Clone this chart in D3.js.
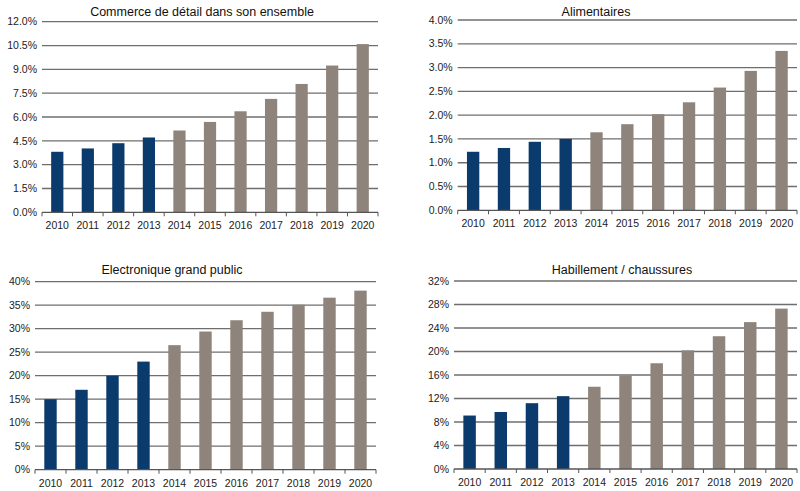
<!DOCTYPE html>
<html><head><meta charset="utf-8">
<script src="https://cdn.jsdelivr.net/npm/d3@7"></script>
<style>
body{margin:0;background:#fff;}
svg{display:block;font-family:"Liberation Sans",Arial,sans-serif;}
</style></head>
<body><svg id="c" width="800" height="491"></svg>
<script>
const years = ["2010","2011","2012","2013","2014","2015","2016","2017","2018","2019","2020"];
const actualCount = 4;
const titles = ["Commerce de détail dans son ensemble","Alimentaires","Electronique grand public","Habillement / chaussures"];
const commerce = [3.81,4.02,4.35,4.71,5.15,5.69,6.36,7.14,8.08,9.24,10.59];
const alimentaires = [1.23,1.31,1.44,1.50,1.64,1.81,2.02,2.27,2.58,2.93,3.35];
const electronique = [15.0,17.0,20.0,23.0,26.5,29.4,31.8,33.6,35.1,36.6,38.1];
const habillement = [9.1,9.7,11.2,12.4,14.0,15.9,18.0,20.2,22.6,25.0,27.3];
const yMax = [12,4,40,32];
const yStep = [1.5,0.5,5,4];
const yDecimals = [1,1,0,0];

const series = [commerce, alimentaires, electronique, habillement];
const layout = [
  {x0:42, x1:378, top:21.7, bottom:212.3, tx:202, ty:16},
  {x0:457.7, x1:797, top:20, bottom:210.3, tx:596, ty:16},
  {x0:35, x1:376, top:281.7, bottom:469.7, tx:172, ty:274},
  {x0:454, x1:797, top:281, bottom:469, tx:622, ty:274}
];
const navy = "#0b3a6c", grey = "#8e847b";
const svg = d3.select("#c");

series.forEach((vals, i) => {
  const L = layout[i];
  const g = svg.append("g");
  const x = d3.scaleBand().domain(years).range([L.x0, L.x1]).paddingInner(0.6).paddingOuter(0.3);
  const y = d3.scaleLinear().domain([0, yMax[i]]).range([L.bottom, L.top]);
  const ticks = d3.range(0, yMax[i] + yStep[i]/2, yStep[i]);
  // gridlines
  g.selectAll("line.grid").data(ticks.filter(t => t > 0)).join("line")
    .attr("x1", L.x0).attr("x2", L.x1)
    .attr("y1", d => y(d)).attr("y2", d => y(d))
    .attr("stroke", "#6e6e6e").attr("stroke-width", 1.3);
  // y labels
  g.selectAll("text.yl").data(ticks).join("text")
    .attr("x", L.x0 - 5).attr("y", d => y(d)).attr("dy", "0.35em")
    .attr("text-anchor", "end").attr("font-size", 10.5).attr("fill", "#222")
    .text(d => d.toFixed(yDecimals[i]) + "%");
  // bars
  g.selectAll("rect").data(vals).join("rect")
    .attr("x", (d, j) => x(years[j]))
    .attr("width", x.bandwidth())
    .attr("y", d => y(d))
    .attr("height", d => y(0) - y(d))
    .attr("fill", (d, j) => j < actualCount ? navy : grey);
  // x axis
  const ax = g.append("g").attr("transform", `translate(0,${L.bottom})`);
  ax.append("line").attr("x1", L.x0).attr("x2", L.x1).attr("stroke", "#555").attr("stroke-width", 1.3);
  const step = (L.x1 - L.x0) / years.length;
  ax.selectAll("line.tk").data(d3.range(years.length + 1)).join("line")
    .attr("x1", k => L.x0 + k * step).attr("x2", k => L.x0 + k * step)
    .attr("y1", 0).attr("y2", 4).attr("stroke", "#555");
  ax.selectAll("text").data(years).join("text")
    .attr("x", d => x(d) + x.bandwidth() / 2).attr("y", 17)
    .attr("text-anchor", "middle").attr("font-size", 10.5).attr("fill", "#222")
    .text(d => d);
  // title
  g.append("text").attr("x", L.tx).attr("y", L.ty).attr("text-anchor", "middle")
    .attr("font-size", 12.5).attr("fill", "#111").text(titles[i]);
});
</script></body></html>
